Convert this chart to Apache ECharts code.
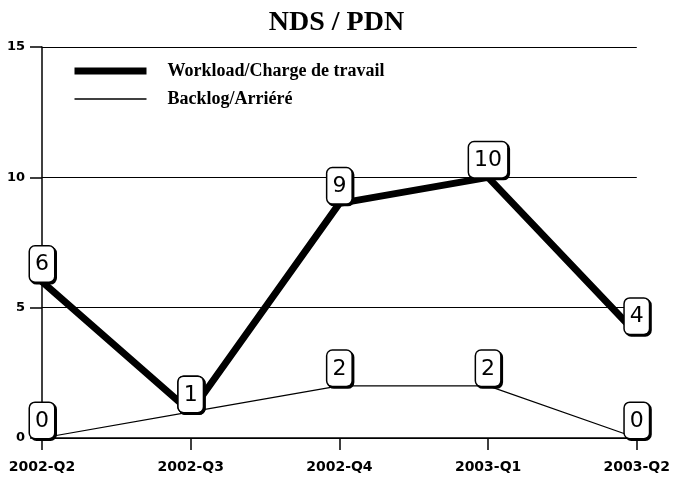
<!DOCTYPE html>
<html>
<head>
<meta charset="UTF-8">
<title>NDS / PDN</title>
<style>
body{margin:0;background:#fff;}
#picContainer{width:673px;height:480px;}
</style>
</head>
<body>
<div id="picContainer"></div>
<script src="https://cdn.jsdelivr.net/npm/echarts@6/dist/echarts.min.js"></script>
<script>
var quarters = ['2002-Q2', '2002-Q3', '2002-Q4', '2003-Q1', '2003-Q2'];
var workload = [6, 1, 9, 10, 4];
var backlog = [0, 1, 2, 2, 0];
var yTicks = [0, 5, 10, 15];

main();
function main(){
    drawPic(quarters, workload, backlog);
}
function boxLabel(){
    return {
        show: true,
        position: 'top',
        distance: 0,
        fontFamily: 'DejaVu Sans',
        fontSize: 22,
        lineHeight: 24,
        color: '#000',
        backgroundColor: '#fff',
        borderColor: '#000',
        borderWidth: 1.5,
        borderRadius: 5,
        padding: [6, 5, 5, 5],
        shadowColor: '#000',
        shadowOffsetX: 1.5,
        shadowOffsetY: 1.5,
        shadowBlur: 0
    };
}
function drawPic(cats, work, back){
    var myChart = echarts.init(document.getElementById('picContainer'));
    var option = {
        animation: false,
        title: {
            text: 'NDS / PDN',
            left: 'center',
            top: 4,
            textStyle: {fontFamily: 'Liberation Serif', fontWeight: 'bold', fontSize: 28, color: '#000'}
        },
        legend: {
            orient: 'vertical',
            left: 71,
            top: 62,
            padding: 0,
            itemWidth: 72,
            itemHeight: 14,
            itemGap: 10,
            textStyle: {fontFamily: 'Liberation Serif', fontWeight: 'bold', fontSize: 18, color: '#000', padding: [0, 0, 0, 16]},
            data: [
                {name: 'Workload/Charge de travail', lineStyle: {width: 7}, itemStyle: {opacity: 0}},
                {name: 'Backlog/Arriéré', lineStyle: {width: 1.3, color: '#000'}, itemStyle: {opacity: 0}}
            ]
        },
        grid: {left: 42, right: 33, top: 47, bottom: 42},
        xAxis: {
            type: 'category',
            boundaryGap: false,
            data: cats,
            axisLine: {lineStyle: {color: '#000', width: 1.5}},
            axisTick: {length: 12, lineStyle: {color: '#000', width: 1.5}},
            axisLabel: {margin: 22, fontFamily: 'DejaVu Sans', fontWeight: 'bold', fontSize: 14, color: '#000'}
        },
        yAxis: {
            type: 'value',
            min: yTicks[0],
            max: yTicks[yTicks.length - 1],
            interval: 5,
            axisLine: {show: true, lineStyle: {color: '#000', width: 1.5}},
            axisTick: {show: true, length: 12, lineStyle: {color: '#000', width: 1.5}},
            axisLabel: {margin: 17, fontFamily: 'DejaVu Sans', fontWeight: 'bold', fontSize: 13, color: '#000'},
            splitLine: {lineStyle: {color: '#000', width: 1.2}}
        },
        series: [
            {
                name: 'Backlog/Arriéré',
                type: 'line',
                symbol: 'circle',
                symbolSize: 0.1,
                itemStyle: {color: '#000'},
                lineStyle: {color: '#000', width: 1.2},
                label: boxLabel(),
                z: 3,
                data: back
            },
            {
                name: 'Workload/Charge de travail',
                type: 'line',
                symbol: 'circle',
                symbolSize: 0.1,
                itemStyle: {color: '#000'},
                lineStyle: {color: '#000', width: 7},
                label: boxLabel(),
                z: 4,
                data: work
            }
        ]
    };
    myChart.setOption(option);
}
</script>
</body>
</html>
